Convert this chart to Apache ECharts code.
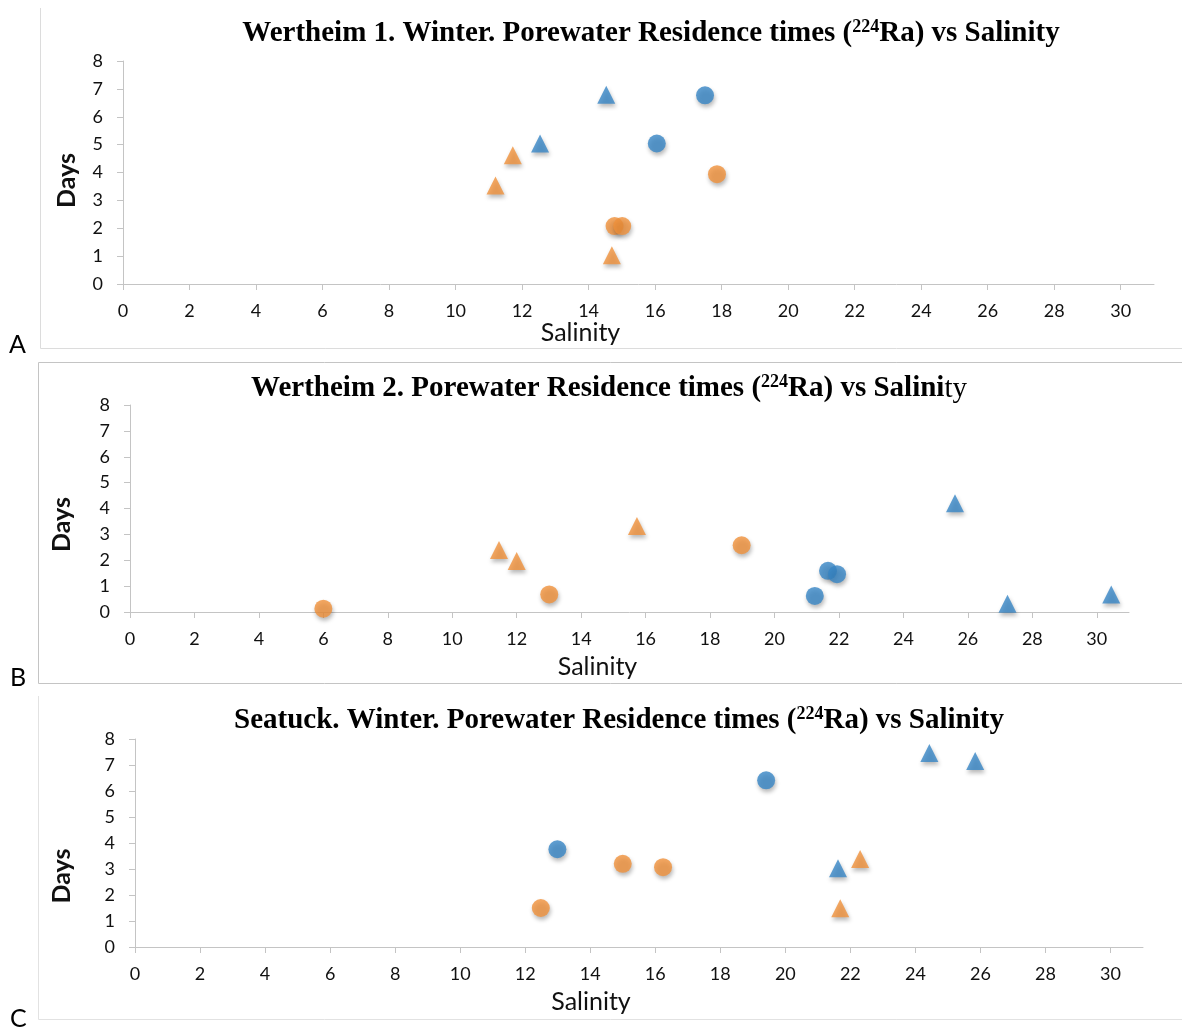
<!DOCTYPE html>
<html>
<head>
<meta charset="utf-8">
<script src="https://cdn.jsdelivr.net/npm/echarts@6/dist/echarts.min.js"></script>
<style>
  html, body { margin: 0; padding: 0; background: #fff; }
  #chart { width: 1182px; height: 1027px; }
</style>
</head>
<body>
<div id="chart"></div>
<script>
// tick values
var xTicks = [0, 2, 4, 6, 8, 10, 12, 14, 16, 18, 20, 22, 24, 26, 28, 30];

// A: Wertheim 1, winter  [salinity, days]
var aBlueCircle = [[17.5, 6.77], [16.05, 5.04]];
var aBlueTri = [[12.54, 5.04], [14.53, 6.79]];
var aOrangeCircle = [[17.86, 3.94], [14.78, 2.08], [15.01, 2.08]];
var aOrangeTri = [[11.2, 3.53], [11.72, 4.62], [14.7, 1.03]];

// B: Wertheim 2
var bBlueCircle = [[21.66, 1.59], [21.94, 1.46], [21.25, 0.62]];
var bBlueTri = [[25.6, 4.2], [27.23, 0.32], [30.45, 0.68]];
var bOrangeCircle = [[6.0, 0.13], [13.01, 0.68], [18.98, 2.58]];
var bOrangeTri = [[11.45, 2.4], [12.0, 1.97], [15.73, 3.32]];

// C: Seatuck, winter
var cBlueCircle = [[12.99, 3.76], [19.41, 6.41]];
var cBlueTri = [[21.62, 3.03], [24.43, 7.46], [25.84, 7.15]];
var cOrangeCircle = [[12.48, 1.5], [15.0, 3.2], [16.24, 3.07]];
var cOrangeTri = [[22.3, 3.38], [21.69, 1.49]];

var BLUE = '#3786c6';
var ORANGE = '#f0913b';
var SANS = 'Lato';
var SERIF = '"Liberation Serif", "Times New Roman", serif';

var myChart = echarts.init(document.getElementById('chart'));

function xAx(idx, gap, shift) {
  return {
    type: 'value', gridIndex: idx, min: 0, max: 31,
    name: 'Salinity', nameLocation: 'middle', nameGap: gap,
    nameTextStyle: { fontFamily: SANS, fontSize: 25, color: '#111', padding: [0, shift * 2, 0, 0] },
    axisLine: { lineStyle: { color: '#c4c4c4' } },
    axisTick: { customValues: xTicks, length: 6, lineStyle: { color: '#c4c4c4' } },
    axisLabel: { customValues: xTicks, margin: 18, fontFamily: SANS, fontSize: 18, color: '#111' },
    splitLine: { show: false }
  };
}
function yAx(idx, gap, shift) {
  return {
    type: 'value', gridIndex: idx, min: 0, max: 8, interval: 1,
    name: 'Days', nameLocation: 'middle', nameGap: gap,
    nameTextStyle: { fontFamily: SANS, fontWeight: 'bold', fontSize: 25, color: '#111', padding: [0, shift * 2, 0, 0] },
    axisLine: { show: true, lineStyle: { color: '#c4c4c4' } },
    axisTick: { show: true, length: 6, lineStyle: { color: '#c4c4c4' } },
    axisLabel: { margin: 20, fontFamily: SANS, fontSize: 18, color: '#111' },
    splitLine: { show: false }
  };
}
function pts(idx, data, color, symbol) {
  return {
    type: 'scatter', xAxisIndex: idx, yAxisIndex: idx, data: data,
    symbol: symbol, symbolSize: 18,
    itemStyle: { color: color, shadowBlur: 4, shadowOffsetX: 1, shadowOffsetY: 3, shadowColor: 'rgba(0,0,0,0.35)' }
  };
}
function ttl(text, x, y) {
  return {
    text: text, left: x, top: y, textAlign: 'center',
    textStyle: {
      fontFamily: SERIF, fontWeight: 'bold', fontSize: 29, color: '#000', lineHeight: 32,
      rich: {
        sup: { fontFamily: SERIF, fontWeight: 'bold', fontSize: 18, lineHeight: 18, verticalAlign: 'top', color: '#000' },
        n: { fontFamily: SERIF, fontWeight: 'normal', fontSize: 29, lineHeight: 32, color: '#000' }
      }
    }
  };
}

var option = {
  animation: false,
  title: [
    ttl('Wertheim 1. Winter. Porewater Residence times ({sup|224}Ra) vs Salinity', 646, 13),
    ttl('Wertheim 2. Porewater Residence times ({sup|224}Ra) vs Salini{n|ty}', 604, 368),
    ttl('Seatuck. Winter. Porewater Residence times ({sup|224}Ra) vs Salinity', 614, 700)
  ],
  grid: [
    { left: 123, top: 61, width: 1031, height: 223 },
    { left: 130, top: 405, width: 999, height: 207 },
    { left: 135, top: 739, width: 1008, height: 208 }
  ],
  xAxis: [xAx(0, 33, 58), xAx(1, 42, 32), xAx(2, 42, 48)],
  yAxis: [yAx(0, 44, 8), yAx(1, 56, 16), yAx(2, 61, 33)],
  series: [
    pts(0, aBlueCircle, BLUE, 'circle'),
    pts(0, aBlueTri, BLUE, 'triangle'),
    pts(0, aOrangeCircle, ORANGE, 'circle'),
    pts(0, aOrangeTri, ORANGE, 'triangle'),
    pts(1, bBlueCircle, BLUE, 'circle'),
    pts(1, bBlueTri, BLUE, 'triangle'),
    pts(1, bOrangeCircle, ORANGE, 'circle'),
    pts(1, bOrangeTri, ORANGE, 'triangle'),
    pts(2, cBlueCircle, BLUE, 'circle'),
    pts(2, cBlueTri, BLUE, 'triangle'),
    pts(2, cOrangeCircle, ORANGE, 'circle'),
    pts(2, cOrangeTri, ORANGE, 'triangle')
  ],
  graphic: [
    // panel frames
    { type: 'polyline', silent: true, shape: { points: [[40.5, 8], [40.5, 348.5], [1182, 348.5]] }, style: { stroke: '#dcdcdc', fill: null } },
    { type: 'rect', silent: true, shape: { x: 38.5, y: 362.5, width: 1150, height: 321 }, style: { stroke: '#c4c4c4', fill: null } },
    { type: 'polyline', silent: true, shape: { points: [[38.5, 696], [38.5, 1019.5], [1182, 1019.5]] }, style: { stroke: '#e2e2e2', fill: null } },
    // panel letters
    { type: 'text', left: 9, top: 332, style: { text: 'A', font: '25px Lato', fill: '#000' } },
    { type: 'text', left: 10, top: 665, style: { text: 'B', font: '25px Lato', fill: '#000' } },
    { type: 'text', left: 10, top: 1006, style: { text: 'C', font: '25px Lato', fill: '#000' } }
  ]
};
myChart.setOption(option);
</script>
</body>
</html>
